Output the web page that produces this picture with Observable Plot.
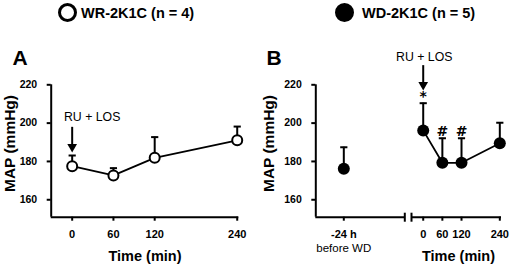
<!DOCTYPE html>
<html>
<head>
<meta charset="utf-8">
<script src="https://cdn.jsdelivr.net/npm/d3@7"></script>
<script src="https://cdn.jsdelivr.net/npm/@observablehq/plot@0.6"></script>
<style>
  body { margin: 0; background: #fff; font-family: "Liberation Sans", Arial, sans-serif; }
  #wrap { position: relative; width: 512px; height: 266px; overflow: hidden; }
  #legend { position: absolute; left: 0; top: 0; width: 512px; height: 30px; }
  .lg { position: absolute; font-weight: bold; font-size: 14.5px; color: #000; line-height: 1; }
  .sw { position: absolute; width: 13px; height: 13px; border-radius: 50%; border: 3px solid #000; }
  #pa, #pb { position: absolute; top: 30px; }
  #pa { left: 0; } #pb { left: 256px; }
</style>
</head>
<body>
<div id="wrap">
  <div id="legend">
    <span class="sw" style="left:58px;top:3px;background:#fff"></span>
    <span class="lg" style="left:81px;top:6px">WR-2K1C (n = 4)</span>
    <span class="sw" style="left:335px;top:3px;background:#000"></span>
    <span class="lg" style="left:362px;top:6px">WD-2K1C (n = 5)</span>
  </div>
  <div id="pa"></div>
  <div id="pb"></div>
</div>
<script>
// Panel A: WR-2K1C
const timesA = [0, 60, 120, 240];
const meanA = [177.5, 172.7, 181.9, 191];
const upperA = [183.1, 176.5, 192.7, 198.2];
// Panel B: WD-2K1C (-24 h before WD encoded as -1440 min)
const timesB = [-1440, 0, 60, 120, 240];
const meanB = [176.2, 196.2, 179.3, 179.3, 189.5];
const upperB = [187.4, 210.4, 192.1, 192.1, 200.2];
const marksB = ["", "*", "#", "#", ""];
const yTicks = [160, 180, 200, 220];
const xTicksA = [0, 60, 120, 240];
const xTicksB = [-1440, 0, 60, 120, 240];
const xTickLabelsB = ["-24 h", "0", "60", "120", "240"];

const FONT = "Liberation Sans, Arial, sans-serif";
const hbar = { draw(ctx, size) { const w = 3.6; ctx.moveTo(-w, 0); ctx.lineTo(w, 0); } };
const vbar = { draw(ctx, size) { const h = 4.5; ctx.moveTo(0, -h); ctx.lineTo(0, h); } };

const dataA = timesA.map((t, i) => ({ t, mean: meanA[i], upper: upperA[i] }));
const dataB = timesB.map((t, i) => ({ t, mean: meanB[i], upper: upperB[i], mark: marksB[i] }));
const yDomain = [150.9, 220];
const margins = { marginTop: 54.3, marginBottom: 49.3 };

const plotA = Plot.plot({
  width: 256, height: 236, ...margins, marginLeft: 50.7, marginRight: 17.7,
  style: { fontFamily: FONT, background: "transparent", overflow: "visible" },
  x: { domain: [-30.5, 242.3] },
  y: { domain: yDomain },
  marks: [
    Plot.ruleX([-30.5], { y1: yDomain[0], y2: yDomain[1], strokeWidth: 2 }),
    Plot.ruleY([yDomain[0]], { x1: -30.5, x2: 242.3, strokeWidth: 2 }),
    Plot.axisY({ ticks: yTicks, tickSize: 4, tickPadding: 10, strokeWidth: 2, fontSize: 10.5, fontWeight: "bold", label: null }),
    Plot.axisX({ ticks: xTicksA, tickSize: 4, tickPadding: 9, strokeWidth: 2, fontSize: 11, fontWeight: "bold", label: null }),
    Plot.text(["Time (min)"], { frameAnchor: "bottom", dx: 0, dy: 44, fontSize: 14.5, fontWeight: "bold", lineAnchor: "bottom" }),
    Plot.text(["MAP (mmHg)"], { frameAnchor: "left", rotate: -90, textAnchor: "middle", lineAnchor: "middle", dx: -41.5, dy: -7.5, fontSize: 15.5, fontWeight: "bold" }),
    Plot.text(["A"], { frameAnchor: "top-left", textAnchor: "middle", lineAnchor: "middle", dx: -31, dy: -27, fontSize: 21, fontWeight: "bold" }),
    Plot.ruleX(dataA, { x: "t", y1: "mean", y2: "upper", strokeWidth: 2 }),
    Plot.dot(dataA, { x: "t", y: "upper", symbol: hbar, stroke: "black", strokeWidth: 2, r: 4 }),
    Plot.line(dataA, { x: "t", y: "mean", strokeWidth: 1.8 }),
    Plot.dot(dataA, { x: "t", y: "mean", r: 5, fill: "white", stroke: "black", strokeWidth: 2 }),
    // annotation: RU + LOS arrow at t = 0
    Plot.ruleX([0], { y1: 197.8, y2: 188.5, strokeWidth: 2 }),
    Plot.dot([0], { x: d => d, y: 187.6, symbol: "triangle", rotate: 180, r: 3.6, fill: "black", stroke: "none" }),
    Plot.text(["RU + LOS"], { x: 0, y: 203.2, dx: 20, fontSize: 12.3 })
  ]
});

const bxDomain = [-1527.7, -1249, -36.7, 245.3];
const bxRange = [59.3, 148.3, 155, 245];
const plotB = Plot.plot({
  width: 256, height: 236, ...margins, marginLeft: 59.3, marginRight: 11,
  style: { fontFamily: FONT, background: "transparent", overflow: "visible" },
  x: { type: "linear", domain: bxDomain, range: bxRange },
  y: { domain: yDomain },
  marks: [
    Plot.ruleX([bxDomain[0]], { y1: yDomain[0], y2: yDomain[1], strokeWidth: 2 }),
    Plot.ruleY([yDomain[0]], { x1: bxDomain[0], x2: bxDomain[1], strokeWidth: 2 }),
    Plot.ruleY([yDomain[0]], { x1: bxDomain[2], x2: bxDomain[3], strokeWidth: 2 }),
    Plot.dot([bxDomain[1], bxDomain[2]], { x: d => d, y: yDomain[0], symbol: vbar, stroke: "black", strokeWidth: 2, r: 4 }),
    Plot.axisY({ ticks: yTicks, tickSize: 4, tickPadding: 10, strokeWidth: 2, fontSize: 10.5, fontWeight: "bold", label: null }),
    Plot.axisX({ ticks: xTicksB, tickSize: 4, tickPadding: 9, strokeWidth: 2, fontSize: 11, fontWeight: "bold", label: null,
      tickFormat: d => xTickLabelsB[xTicksB.indexOf(d)] }),
    Plot.text(["before WD"], { x: -1440, y: yDomain[0], dy: 31, fontSize: 11.5 }),
    Plot.text(["Time (min)"], { x: 120, y: yDomain[0], dx: -3, dy: 44, fontSize: 14.5, fontWeight: "bold", lineAnchor: "bottom" }),
    Plot.text(["MAP (mmHg)"], { frameAnchor: "left", rotate: -90, textAnchor: "middle", lineAnchor: "middle", dx: -46.8, dy: -7.5, fontSize: 15.5, fontWeight: "bold" }),
    Plot.text(["B"], { frameAnchor: "top-left", textAnchor: "middle", lineAnchor: "middle", dx: -41.8, dy: -27, fontSize: 21, fontWeight: "bold" }),
    Plot.ruleX(dataB, { x: "t", y1: "mean", y2: "upper", strokeWidth: 2 }),
    Plot.dot(dataB, { x: "t", y: "upper", symbol: hbar, stroke: "black", strokeWidth: 2, r: 4 }),
    Plot.line(dataB.filter(d => d.t >= 0), { x: "t", y: "mean", strokeWidth: 1.8 }),
    Plot.dot(dataB, { x: "t", y: "mean", r: 6, fill: "black" }),
    Plot.text(dataB, { x: "t", y: "upper", text: "mark", dy: -7, fontSize: 14, fontWeight: "bold", fontFamily: "DejaVu Sans" }),
    // annotation: RU + LOS arrow at t = 0
    Plot.ruleX([0], { y1: 230, y2: 221, strokeWidth: 2 }),
    Plot.dot([0], { x: d => d, y: 220, symbol: "triangle", rotate: 180, r: 3.6, fill: "black", stroke: "none" }),
    Plot.text(["RU + LOS"], { x: 0, y: 234.4, dx: 1, fontSize: 12.3 })
  ]
});

document.getElementById("pa").appendChild(plotA);
document.getElementById("pb").appendChild(plotB);
</script>
</body>
</html>
